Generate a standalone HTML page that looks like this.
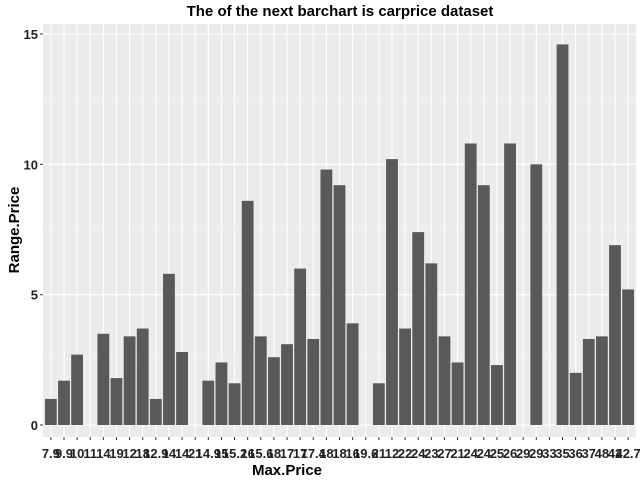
<!DOCTYPE html>
<html><head><meta charset="utf-8"><style>
body{margin:0;background:#fff;font-family:"Liberation Sans",sans-serif}
</style></head><body>
<svg id="c" width="640" height="480" xmlns="http://www.w3.org/2000/svg">
<rect x="0" y="0" width="640" height="480" fill="#fff"/>
<rect id="panel" x="43" y="24" width="593" height="413" fill="#ebebeb"/>
<g id="grid"></g><g id="bars"></g><g id="axes"></g>
<text x="340" y="16" text-anchor="middle" font-size="15" font-weight="bold" fill="#000">The of the next barchart is carprice dataset</text>
<text x="287" y="475" text-anchor="middle" font-size="15" font-weight="bold" fill="#000">Max.Price</text>
<text transform="translate(19,230) rotate(-90)" text-anchor="middle" font-size="15" font-weight="bold" fill="#000">Range.Price</text>
</svg>
<script>
const categories=["7.9","9.9","10","11","14","19","12","18","12.9","14","14","21","14.9","15","15.2","16","15.6","18","17","17","17.4","18","18","16","19.6","21","12","22","24","23","27","21","24","24","25","26","29","29","33","35","36","37","48","42","42.7"];
const values=[1.0,1.7,2.7,0,3.5,1.8,3.4,3.7,1.0,5.8,2.8,0,1.7,2.4,1.6,8.6,3.4,2.6,3.1,6.0,3.3,9.8,9.2,3.9,0,1.6,10.2,3.7,7.4,6.2,3.4,2.4,10.8,9.2,2.3,10.8,0,10.0,0,14.6,2.0,3.3,3.4,6.9,5.2];
const yTicks=[0,5,10,15];
const NS="http://www.w3.org/2000/svg";
const px0=43,px1=636,y0=425,yScale=(15.0)/ (425-34);
const n=categories.length;
const step=(px1-px0)/(n+0.2);
function xs(i){return px0+step*(0.6+i);}
function ys(v){return y0-v/yScale;}
function mk(t,a,p){const e=document.createElementNS(NS,t);for(const k in a)e.setAttribute(k,a[k]);p.appendChild(e);return e;}
const grid=document.getElementById('grid'),bars=document.getElementById('bars'),axes=document.getElementById('axes');
for(let k=0;k<yTicks.length-1;k++){const m=(yTicks[k]+yTicks[k+1])/2;const l=mk('line',{x1:px0,x2:px1,y1:ys(m),y2:ys(m),stroke:'#f5f5f5','stroke-width':0.6},grid);

}
yTicks.forEach(t=>{const l=mk('line',{x1:px0,x2:px1,y1:ys(t),y2:ys(t),stroke:'#fff','stroke-width':1.1},grid);


const tk=mk('line',{x1:px0-3,x2:px0,y1:ys(t),y2:ys(t),stroke:'#333','stroke-width':1},axes);


const tx=mk('text',{x:px0-5,y:ys(t)+5,'text-anchor':'end','font-size':13,'font-weight':'bold',fill:'#222'},axes);tx.textContent=t;

});
categories.forEach((c,i)=>{const x=xs(i);
const g=mk('line',{x1:x,x2:x,y1:24,y2:437,stroke:'#fff','stroke-width':1.1},grid);


const w=step*0.9;
const b=mk('rect',{x:x-w/2,y:ys(values[i]),width:w,height:Math.max(0,y0-ys(values[i])),fill:'#595959'},bars);


const tk=mk('line',{x1:x,x2:x,y1:437,y2:440,stroke:'#333','stroke-width':1},axes);


const tx=mk('text',{x:x,y:458,'text-anchor':'middle','font-size':13,'font-weight':'bold',fill:'#222'},axes);tx.textContent=c;

});
</script>
</body></html>
